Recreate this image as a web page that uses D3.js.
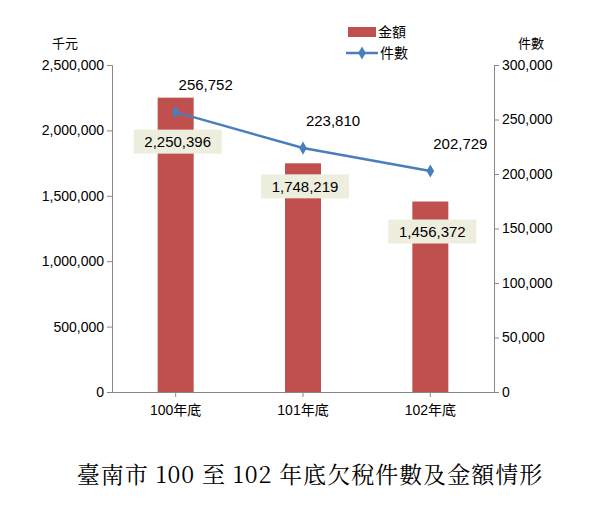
<!DOCTYPE html><html><head><meta charset="utf-8"><script src="https://cdn.jsdelivr.net/npm/d3@7"></script>
<style>body{margin:0;background:#fff}</style></head><body><svg id="c" width="599" height="513"></svg>
<script>
const categories=["100年底","101年底","102年底"];
const amounts=[2250396,1748219,1456372];
const counts=[256752,223810,202729];
const leftTicks=[0,500000,1000000,1500000,2000000,2500000];
const rightTicks=[0,50000,100000,150000,200000,250000,300000];
const svg=d3.select("#c");
const L=112,R=494,T=65,B=392;
const x=d3.scaleBand().domain(categories).range([L,R]);
const yl=d3.scaleLinear().domain([0,2500000]).range([B,T]);
const yr=d3.scaleLinear().domain([0,300000]).range([B,T]);
const f=d3.format(",");
const font="Arial, 'Liberation Sans', 'Noto Sans CJK TC'";
svg.append("g").attr("transform",`translate(${L},0)`).call(d3.axisLeft(yl).tickValues(leftTicks).tickFormat(f).tickSize(5))
 .call(g=>{g.selectAll("text").attr("font-size",14).attr("font-family",font).attr("fill","#000");g.selectAll("line,path").attr("stroke","#888");});
svg.append("g").attr("transform",`translate(${R},0)`).call(d3.axisRight(yr).tickValues(rightTicks).tickFormat(f).tickSize(5))
 .call(g=>{g.selectAll("text").attr("font-size",14).attr("font-family",font).attr("fill","#000");g.selectAll("line,path").attr("stroke","#888");});
svg.append("g").attr("transform",`translate(0,${B})`).call(d3.axisBottom(x).tickSize(5).tickSizeOuter(0))
 .call(g=>{g.selectAll("text").attr("font-size",14).attr("font-family",font).attr("fill","#000").attr("dy","1.1em");g.selectAll("line,path").attr("stroke","#888");});
const bw=36;
svg.selectAll(".bar").data(amounts).join("rect").attr("x",(d,i)=>x(categories[i])+x.bandwidth()/2-bw/2)
 .attr("y",d=>yl(d)).attr("width",bw).attr("height",d=>B-yl(d)).attr("fill","#c0504d");
const line=d3.line().x((d,i)=>x(categories[i])+x.bandwidth()/2).y(d=>yr(d));
svg.append("path").attr("d",line(counts)).attr("fill","none").attr("stroke","#4a7ebb").attr("stroke-width",2.5);
svg.selectAll(".pt").data(counts).join("path").attr("d",d3.symbol(d3.symbolDiamond,50))
 .attr("transform",(d,i)=>`translate(${x(categories[i])+x.bandwidth()/2},${yr(d)})`).attr("fill","#4a7ebb");
svg.selectAll(".cl").data(counts).join("text").attr("x",(d,i)=>x(categories[i])+x.bandwidth()/2+30).attr("y",d=>yr(d)-22)
 .attr("text-anchor","middle").attr("font-size",15).attr("font-family",font).text(f);
const off=[44,23,30];
const bl=svg.selectAll(".bl").data(amounts).join("g").attr("transform",(d,i)=>`translate(${x(categories[i])+x.bandwidth()/2+2},${yl(d)+off[i]})`);
bl.append("rect").attr("x",-44).attr("y",-12).attr("width",88).attr("height",24).attr("fill","#eeeedf");
bl.append("text").attr("text-anchor","middle").attr("dy","0.35em").attr("font-size",15).attr("font-family",font).text(f);
svg.append("text").attr("x",52).attr("y",48).attr("font-size",13).attr("font-family",font).text("千元");
svg.append("text").attr("x",518).attr("y",48).attr("font-size",13).attr("font-family",font).text("件數");
svg.append("rect").attr("x",348).attr("y",27).attr("width",28).attr("height",10).attr("fill","#c0504d");
svg.append("text").attr("x",378).attr("y",37).attr("font-size",14).attr("font-family",font).text("金額");
svg.append("line").attr("x1",346).attr("x2",378).attr("y1",53).attr("y2",53).attr("stroke","#4a7ebb").attr("stroke-width",2.5);
svg.append("path").attr("d",d3.symbol(d3.symbolDiamond,50)).attr("transform","translate(362,53)").attr("fill","#4a7ebb");
svg.append("text").attr("x",380).attr("y",58).attr("font-size",14).attr("font-family",font).text("件數");
svg.append("text").attr("x",310).attr("y",483).attr("text-anchor","middle").attr("font-size",23).attr("letter-spacing",1)
 .attr("font-family","'Noto Serif CJK TC','Liberation Serif','Noto Sans CJK TC'").text("臺南市 100 至 102 年底欠稅件數及金額情形");
</script></body></html>
